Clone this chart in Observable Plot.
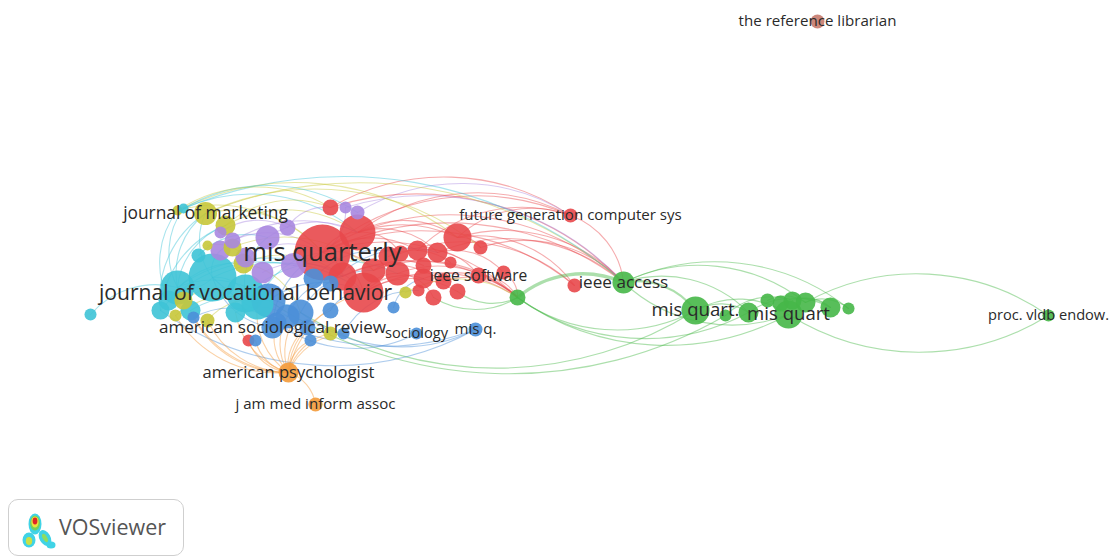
<!DOCTYPE html>
<html><head><meta charset="utf-8">
<script src="https://cdn.jsdelivr.net/npm/d3@7"></script>
<script src="https://cdn.jsdelivr.net/npm/@observablehq/plot@0.6"></script>
<style>
body{margin:0;background:#fff;font-family:"Open Sans",sans-serif;}
#wrap{position:relative;width:1110px;height:557px;overflow:hidden;background:#fff;}
#chart{position:absolute;left:0;top:0;}
#logo{position:absolute;left:8px;top:499px;width:176px;height:57px;box-sizing:border-box;border:1px solid #cfcfcf;border-radius:10px;background:#fff;}
#logo svg{position:absolute;left:12px;top:10px;}
#logo span{position:absolute;left:50px;top:12px;font-family:"Open Sans",sans-serif;font-size:21.5px;color:#555;line-height:30px;}
</style></head>
<body>
<div id="wrap">
<div id="chart"></div>
<div id="logo">
<svg width="36" height="40" viewBox="0 0 36 38">
<defs><filter id="bl"><feGaussianBlur stdDeviation="0.7"/></filter></defs>
<g filter="url(#bl)">
<ellipse cx="14" cy="13" rx="6.5" ry="10.5" fill="#3fd3e6"/>
<ellipse cx="8" cy="29" rx="6.5" ry="7.5" fill="#3fd3e6"/>
<ellipse cx="24" cy="27" rx="5.5" ry="8.5" transform="rotate(-30 24 27)" fill="#3fd3e6"/>
<ellipse cx="30" cy="34" rx="4.5" ry="3.5" fill="#3fd3e6"/>
<ellipse cx="14" cy="12" rx="5" ry="7.5" fill="#74d35c"/>
<ellipse cx="14" cy="11" rx="3.6" ry="5.5" fill="#f0e23a"/>
<ellipse cx="14" cy="10" rx="2.4" ry="3.4" fill="#e02525"/>
<ellipse cx="8" cy="30" rx="3.2" ry="4" fill="#c9e045"/>
<ellipse cx="24" cy="27" rx="2.2" ry="4.5" transform="rotate(-30 24 27)" fill="#8fdc60"/>
</g>
</svg>
<span>VOSviewer</span>
</div>
</div>
<script>
// cluster colours (VOSviewer-like)
const clusterNames = ["1","2","3","4","5","6","7","8"];
const clusterColors = ["#e8484b","#46b748","#4b8fd8","#c7c73a","#a987e0","#3ec3d6","#f39a3a","#c67a6d"];

// nodes per cluster: [id, x, y, weight, label]
const nodesRed = [
  ["r1",322,252,800,"mis quarterly"],["r2",357,232,330,""],["r3",363,292,408,""],["r4",330,207,65,""],
  ["r5",373,270,147,""],["r6",397,273,147,""],["r7",400,253,65,""],["r8",417,250,102,""],
  ["r9",437,252,102,""],["r10",423,265,65,""],["r11",457,237,200,""],["r12",480,247,50,""],
  ["r13",450,262,37,""],["r14",423,278,102,""],["r15",443,281,65,""],["r16",457,291,65,""],
  ["r17",433,297,65,""],["r18",418,290,37,""],["r19",478,275,65,"ieee software"],["r20",503,272,50,""],
  ["r21",570,215,50,"future generation computer sys"],["r22",574,285,50,""],["r23",248,340,37,""],
  ["r24",342,276,200,""],["r25",388,256,102,""]
];
const nodesGreen = [
  ["g1",517,297,65,""],["g2",623,282,124,"ieee access"],["g3",695,310,200,"mis quart."],["g4",725,315,37,""],
  ["g5",748,312,102,""],["g6",767,300,50,""],["g7",780,303,65,""],["g8",792,300,83,""],
  ["g9",805,302,102,""],["g10",788,314,200,"mis quart"],["g11",830,307,102,""],["g12",848,308,37,""],
  ["g13",1048,315,37,"proc. vldb endow."]
];
const nodesBlue = [
  ["b1",300,312,172,""],["b2",287,316,147,""],["b3",276,322,102,""],["b4",268,300,295,""],
  ["b5",313,278,102,""],["b6",330,283,65,""],["b7",330,310,65,""],["b8",307,327,65,""],
  ["b9",343,333,37,""],["b10",255,340,37,""],["b11",310,340,37,""],["b12",393,307,37,""],
  ["b13",416,333,37,"sociology"],["b14",475,329,50,"mis q."],["b15",193,317,37,""],
  ["b16",272,327,124,"american sociological review"]
];
const nodesYellow = [
  ["y1",177,210,26,""],["y2",205,213,135,"journal of marketing"],["y3",225,225,102,""],["y4",243,263,102,""],
  ["y5",207,245,26,""],["y6",175,315,37,""],["y7",207,320,50,""],["y8",405,292,37,""],
  ["y9",330,333,50,""],["y10",232,247,83,""],["y11",183,300,83,""]
];
const nodesPurple = [
  ["p1",345,207,37,""],["p2",357,212,50,""],["p3",220,232,37,""],["p4",232,240,65,""],
  ["p5",220,250,102,""],["p6",267,237,147,""],["p7",245,257,102,""],["p8",287,227,65,""],
  ["p9",293,265,160,""],["p10",262,272,120,""]
];
const nodesCyan = [
  ["c1",90,314,37,""],["c2",183,208,26,""],["c3",198,255,50,""],["c4",212,277,588,""],
  ["c5",177,287,295,""],["c6",168,300,102,""],["c7",160,310,83,""],["c8",190,310,102,""],
  ["c9",257,303,261,""],["c10",245,293,370,"journal of vocational behavior"],["c11",235,312,102,""]
];
const nodesOrange = [
  ["o1",288,372,102,"american psychologist"],["o2",315,404,50,"j am med inform assoc"]
];
const nodesBrown = [
  ["n1",817,21,50,"the reference librarian"]
];

// links: [source, target, strength]
const links = [
  ["r1","r2"],["r1","r3"],["r1","r24"],["r1","r5"],["r1","r8"],["r1","r11"],["r2","r7"],["r2","r9"],["r2","r11"],
  ["r3","r6"],["r3","r14"],["r3","r16"],["r5","r10"],["r6","r17"],["r24","r15"],["r25","r13"],["r11","r12"],
  ["r8","r19"],["r9","r20"],["r7","r22"],["r11","r22"],["r1","r22"],
  ["r1","r21"],["r2","r21"],["r4","r21"],["r8","r21"],["r11","r21"],["p2","r21"],
  ["r1","g2"],["r2","g2"],["r4","g2"],["r11","g2"],["r12","g2"],["r9","g2"],["p1","g2"],["y2","g2"],["c2","g2"],["r21","g2"],
  ["r1","g1"],["r3","g1"],["r5","g1"],["r6","g1"],["r14","g1"],["r19","g1"],["r20","g1"],["r15","g1"],["r24","g1"],["y8","g1"],
  ["g1","r16"],["g1","r17"],
  ["g1","g2",3],["g3","g1"],["g10","g1"],["g5","g1"],["g2","g3",2],["g2","g12"],["g10","g2"],["g2","g5"],["g2","g9"],
  ["g3","g5"],["g3","g10"],["g4","g8"],["g5","g11"],["g6","g9"],["g7","g11"],["g9","g12"],["g8","g11"],
  ["g9","g13"],["g13","g10"],
  ["g3","b1"],["g4","b4"],["b14","c4"],["b14","c7"],["b14","b1"],["b13","b3"],
  ["o1","b10"],["o1","r23"],["o1","b3"],["o1","b2"],["o1","b8"],["o1","b11"],["o1","y9"],["o1","b9"],["o1","c8"],
  ["o1","y7"],["o1","b1"],["o1","b7"],["o1","o2"],["o1","c9"],["o1","c11"],["o1","r3"],["o1","b15"],["o1","y6"],
  ["y1","r11"],["y2","r12"],["c2","r2"],["y3","r4"],["y1","r1"],["c2","p2"],
  ["c4","y2"],["c5","y3"],["c10","p6"],["c4","p5"],["c9","r1"],["y2","r1"],["y3","r2"],["p6","r2"],["p9","r3"],
  ["b4","r3"],["b1","r5"],["c10","r6"],["y4","r24"],["p8","r4"],["p1","r1"],["y1","r4"],["c3","p6"],["c5","b4"],
  ["c7","p9"],["c6","y4"],["c8","b1"],["y11","c10"],["y6","c9"],["y7","b4"],["b15","b3"],["c11","b2"],["c1","c5"],
  ["y5","p7"],["p3","p8"],["p4","r1"],["p5","r2"],["p10","r24"],["y10","r5"],["b5","r7"],["b6","r9"],["b12","r14"],
  ["b7","r3"],["b9","r18"],["c4","r3"],["c5","r24"],["c7","y2"],["c5","c2"],["c6","y1"],["c7","y3"],["c5","y2"],
  ["c4","c10"],["c4","c5"],["c9","b4"],["b16","r1"],["b16","c4"],["p9","b5"],["p7","r1"],["b2","r24"],["y4","b1"]
];

const clusterLists = [nodesRed,nodesGreen,nodesBlue,nodesYellow,nodesPurple,nodesCyan,nodesOrange,nodesBrown];
const nodes = clusterLists.flatMap((list,i) => list.map(([id,x,y,w,label]) => ({id,x,y,w,label,cluster:clusterNames[i]})));
const byId = new Map(nodes.map(d => [d.id,d]));
const linkData = links.map(([s,t,k]) => ({s:byId.get(s), t:byId.get(t), k:k ?? 1}));

const wMax = 800, rMax = 28;
const radius = w => rMax * Math.sqrt(w / wMax);

const chart = Plot.plot({
  width: 1110, height: 557, margin: 0,
  x: {domain: [0,1110], axis: null},
  y: {domain: [0,557], range: [0,557], axis: null},
  r: {type: "sqrt", domain: [0,wMax], range: [0,rMax]},
  color: {domain: clusterNames, range: clusterColors},
  style: {fontFamily: '"Open Sans", sans-serif', background: "white", overflow: "visible"},
  marks: [
    Plot.arrow(linkData, {
      x1: d => d.s.x, y1: d => d.s.y, x2: d => d.t.x, y2: d => d.t.y,
      bend: 32, headLength: 0,
      stroke: d => d.s.cluster, strokeOpacity: 0.45, strokeWidth: d => 1.1 * d.k
    }),
    Plot.dot(nodes, {x: "x", y: "y", r: "w", fill: "cluster", fillOpacity: 0.9}),
    Plot.text(nodes.filter(d => d.label), {
      x: "x", y: "y", text: "label",
      fontSize: d => 11.6 + 0.5 * radius(d.w),
      fill: "#2a2a2a"
    })
  ]
});
document.getElementById("chart").appendChild(chart);
</script>
</body></html>
